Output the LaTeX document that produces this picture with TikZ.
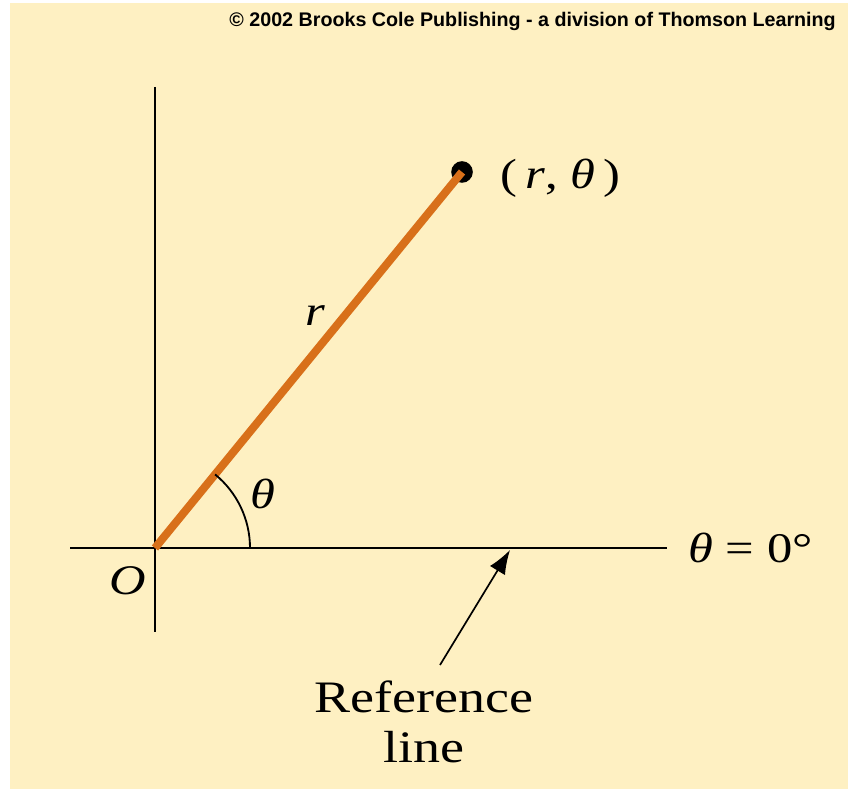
\documentclass[tikz,border=0pt]{standalone}
\usepackage{fontspec}
\setmainfont{Liberation Serif}
\newfontfamily\credfont{Liberation Sans}
\usetikzlibrary{arrows.meta,positioning}
\definecolor{Paper}{HTML}{FEF0C2}
\definecolor{Rust}{HTML}{D8701A}
\tikzset{
 axis/.style={line width=1.5pt,draw=black},
 radial/.style={line width=2mm,draw=Rust},
 dot/.style={circle,fill=black,inner sep=0pt,minimum size=5.4mm},
 lbl/.style={font=\fontsize{30}{35.6}\selectfont,inner sep=0pt,xscale=1.2},
 arr/.style={-{Latex[length=6mm,width=4.4mm]},line width=1.2pt},
 credit/.style={font=\credfont\bfseries\fontsize{14}{16}\selectfont,inner sep=0pt}
}
\begin{document}
\begin{tikzpicture}[x=0.025cm,y=0.025cm]
\useasboundingbox (0,0) rectangle (848,789);
\fill[Paper] (10,0) rectangle (848,786);
\node[credit,anchor=base east] (cr) at (836,762) {© 2002 Brooks Cole Publishing - a division of Thomson Learning};
% axes
\coordinate (O) at (155,241);
\coordinate (ytop) at (155,702);\coordinate (ybot) at (155,157);
\coordinate (xl) at (70,241);\coordinate (xr) at (667,241);
\draw[axis] (ytop)--(ybot);\draw[axis] (xl)--(xr);
% the point and its radius
\node[dot] (P) at (462,617) {};
\draw[radial] (O)--(P.center);
\draw[line width=1.3pt] (O) ++(95,0) arc[start angle=0,end angle=50.77,radius=95];
\node[lbl,anchor=west] (pl) at (500,611) {(\,\textit{r}, \textit{θ}\,)};
\node[lbl] (rl) at (315,473) {\textit{r}};
\node[lbl] (tl) at (263,295) {\textit{θ}};
\node[lbl] (ol) at (128,208) {\textit{O}};
\node[lbl,anchor=west] (zl) at (688,241) {\textit{θ} = 0°};
% reference line label
\node[lbl,font=\fontsize{32}{35.6}\selectfont,align=center,anchor=base] (refl) at (424,26) {Reference\\line};
\coordinate (tail) at (440,124);\coordinate (head) at (510,239);
\draw[arr] (tail)--(head);
\end{tikzpicture}
\end{document}
